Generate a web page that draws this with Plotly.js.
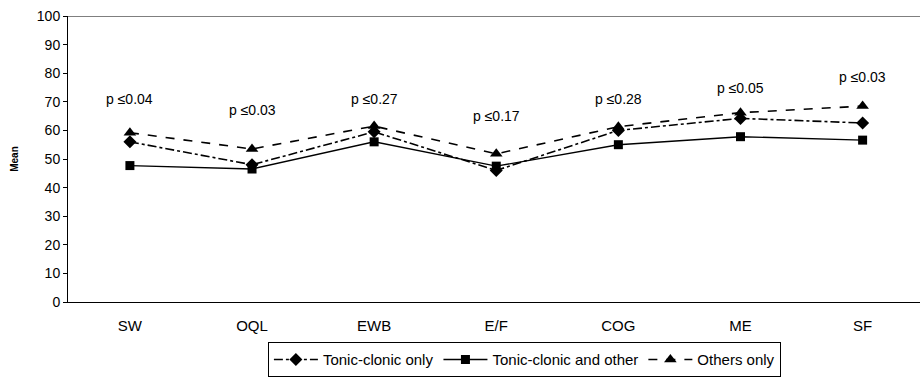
<!DOCTYPE html>
<html>
<head>
<meta charset="utf-8">
<script src="https://cdn.plot.ly/plotly-3.0.1.min.js"></script>
<style>html,body{margin:0;padding:0;background:#fff;}#chart{width:920px;height:377px;}</style>
</head>
<body>
<div id="chart"></div>
<script>
const categories = ["SW", "OQL", "EWB", "E/F", "COG", "ME", "SF"];
const tonicClonicOnly = [56, 48, 59.5, 46, 60, 64.2, 62.6];
const tonicClonicAndOther = [47.7, 46.5, 56, 47.5, 55, 57.8, 56.6];
const othersOnly = [59.2, 53.5, 61.5, 51.8, 61.3, 66.2, 68.5];
const pLabels = ["p \u22640.04", "p \u22640.03", "p \u22640.27", "p \u22640.17", "p \u22640.28", "p \u22640.05", "p \u22640.03"];
const pLabelHeights = [71, 67, 71, 65, 71, 75, 78.5];

const xIdx = categories.map((c, i) => i);
const base = {type: "scatter", mode: "lines+markers", x: xIdx};
const traces = [
  Object.assign({}, base, {name: "Tonic-clonic only", y: tonicClonicOnly,
    line: {color: "#000", width: 1.6, dash: "dashdot"}, marker: {symbol: "diamond", size: 10, color: "#000"}}),
  Object.assign({}, base, {name: "Tonic-clonic and other", y: tonicClonicAndOther,
    line: {color: "#000", width: 1.4, dash: "solid"}, marker: {symbol: "square", size: 9, color: "#000"}}),
  Object.assign({}, base, {name: "Others only", y: othersOnly,
    line: {color: "#000", width: 1.6, dash: "dash"}, marker: {symbol: "triangle-up", size: 11, color: "#000"}})
];

const annotations = pLabels.map((t, i) => ({
  x: i, y: pLabelHeights[i], xref: "x", yref: "y", text: t, showarrow: false,
  font: {family: "Liberation Sans, Arial, sans-serif", size: 14, color: "#000"}
}));

const layout = {
  width: 920, height: 377,
  margin: {l: 68, r: 0, t: 16, b: 75},
  paper_bgcolor: "#fff", plot_bgcolor: "#fff",
  showlegend: true,
  legend: {orientation: "h", x: 0.57, xanchor: "center", xref: "container",
    y: 0.092, yanchor: "top", yref: "container",
    bordercolor: "#000", borderwidth: 1, bgcolor: "#fff",
    font: {family: "Liberation Sans, Arial, sans-serif", size: 15, color: "#000"},
    itemwidth: 44, tracegroupgap: 0},
  xaxis: {
    range: [-0.507, 6.47], tickmode: "array", tickvals: xIdx, ticktext: categories,
    showgrid: false, zeroline: false, showline: true, linecolor: "#000", linewidth: 1,
    ticks: "", ticklabelstandoff: 10,
    tickfont: {family: "Liberation Sans Narrow, Liberation Sans, Arial, sans-serif", size: 15, color: "#000"}
  },
  yaxis: {
    range: [0, 100], dtick: 10, tick0: 0,
    showgrid: false, zeroline: false, showline: true, linecolor: "#000", linewidth: 1,
    ticks: "outside", ticklen: 4, tickcolor: "#000",
    tickfont: {family: "Liberation Sans, Arial, sans-serif", size: 14, color: "#000"},
    title: {text: "<b>Mean</b>", font: {family: "Liberation Sans, Arial, sans-serif", size: 10, color: "#000"}, standoff: 16}
  },
  shapes: [{type: "line", xref: "paper", yref: "y", x0: 0, x1: 1, y0: 100, y1: 100, line: {color: "#000", width: 1}}],
  annotations: annotations
};

Plotly.newPlot("chart", traces, layout, {displayModeBar: false, staticPlot: true});
</script>
</body>
</html>
